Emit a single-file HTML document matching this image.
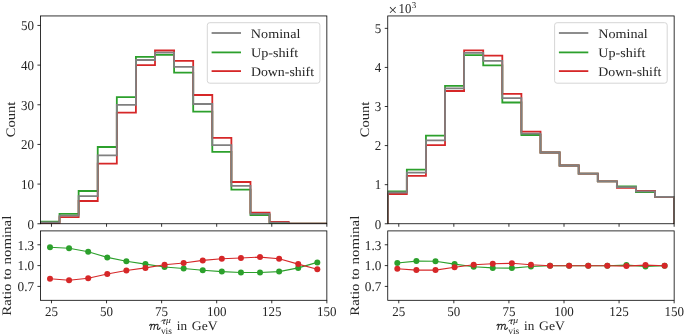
<!DOCTYPE html>
<html><head><meta charset="utf-8"><style>
html,body{margin:0;padding:0;background:#fff;}
svg{display:block;will-change:transform;}
text{font-family:"Liberation Serif",serif;fill:#262626;text-rendering:geometricPrecision;font-kerning:none;}
</style></head><body>
<svg width="685" height="336" viewBox="0 0 685 336">
<rect width="685" height="336" fill="#fff"/>
<clipPath id="c0"><rect x="40.45" y="15.95" width="286.40" height="207.80"/></clipPath><g clip-path="url(#c0)"><path d="M40.45,223.75 L40.45,221.70 L59.54,221.70 L59.54,213.90 L78.64,213.90 L78.64,191.00 L97.73,191.00 L97.73,147.00 L116.82,147.00 L116.82,97.10 L135.92,97.10 L135.92,56.80 L155.01,56.80 L155.01,54.80 L174.10,54.80 L174.10,72.70 L193.20,72.70 L193.20,111.70 L212.29,111.70 L212.29,151.90 L231.38,151.90 L231.38,189.70 L250.48,189.70 L250.48,215.00 L269.57,215.00 L269.57,223.00 L288.66,223.00 L288.66,223.75 L307.76,223.75 L307.76,223.75 L326.85,223.75 L326.85,223.75" fill="none" stroke="#2ca02c" stroke-width="1.8"/><path d="M40.45,223.75 L40.45,223.10 L59.54,223.10 L59.54,217.20 L78.64,217.20 L78.64,201.00 L97.73,201.00 L97.73,163.70 L116.82,163.70 L116.82,112.60 L135.92,112.60 L135.92,65.20 L155.01,65.20 L155.01,50.50 L174.10,50.50 L174.10,60.80 L193.20,60.80 L193.20,95.00 L212.29,95.00 L212.29,137.90 L231.38,137.90 L231.38,182.00 L250.48,182.00 L250.48,212.70 L269.57,212.70 L269.57,221.90 L288.66,221.90 L288.66,223.75 L307.76,223.75 L307.76,223.75 L326.85,223.75 L326.85,223.75" fill="none" stroke="#d62728" stroke-width="1.8"/><path d="M40.45,223.75 L40.45,222.50 L59.54,222.50 L59.54,215.60 L78.64,215.60 L78.64,196.10 L97.73,196.10 L97.73,155.40 L116.82,155.40 L116.82,104.90 L135.92,104.90 L135.92,60.00 L155.01,60.00 L155.01,52.60 L174.10,52.60 L174.10,66.80 L193.20,66.80 L193.20,104.00 L212.29,104.00 L212.29,145.20 L231.38,145.20 L231.38,185.80 L250.48,185.80 L250.48,213.80 L269.57,213.80 L269.57,222.60 L288.66,222.60 L288.66,223.75 L307.76,223.75 L307.76,223.75 L326.85,223.75 L326.85,223.75" fill="none" stroke="#808080" stroke-width="1.8"/></g><path d="M50.00,247.30 L69.09,248.30 L88.18,251.70 L107.28,257.40 L126.37,261.30 L145.46,264.10 L164.56,267.00 L183.65,268.50 L202.74,270.30 L221.84,271.60 L240.93,272.50 L260.02,272.50 L279.12,271.60 L298.21,267.90 L317.30,262.40" fill="none" stroke="#2ca02c" stroke-width="1.1" stroke-linejoin="round"/><circle cx="50.00" cy="247.30" r="3.0" fill="#2ca02c"/><circle cx="69.09" cy="248.30" r="3.0" fill="#2ca02c"/><circle cx="88.18" cy="251.70" r="3.0" fill="#2ca02c"/><circle cx="107.28" cy="257.40" r="3.0" fill="#2ca02c"/><circle cx="126.37" cy="261.30" r="3.0" fill="#2ca02c"/><circle cx="145.46" cy="264.10" r="3.0" fill="#2ca02c"/><circle cx="164.56" cy="267.00" r="3.0" fill="#2ca02c"/><circle cx="183.65" cy="268.50" r="3.0" fill="#2ca02c"/><circle cx="202.74" cy="270.30" r="3.0" fill="#2ca02c"/><circle cx="221.84" cy="271.60" r="3.0" fill="#2ca02c"/><circle cx="240.93" cy="272.50" r="3.0" fill="#2ca02c"/><circle cx="260.02" cy="272.50" r="3.0" fill="#2ca02c"/><circle cx="279.12" cy="271.60" r="3.0" fill="#2ca02c"/><circle cx="298.21" cy="267.90" r="3.0" fill="#2ca02c"/><circle cx="317.30" cy="262.40" r="3.0" fill="#2ca02c"/><path d="M50.00,278.80 L69.09,280.30 L88.18,278.20 L107.28,274.00 L126.37,270.50 L145.46,267.90 L164.56,264.80 L183.65,263.00 L202.74,260.40 L221.84,258.70 L240.93,258.00 L260.02,257.10 L279.12,258.70 L298.21,264.10 L317.30,269.20" fill="none" stroke="#d62728" stroke-width="1.1" stroke-linejoin="round"/><circle cx="50.00" cy="278.80" r="3.0" fill="#d62728"/><circle cx="69.09" cy="280.30" r="3.0" fill="#d62728"/><circle cx="88.18" cy="278.20" r="3.0" fill="#d62728"/><circle cx="107.28" cy="274.00" r="3.0" fill="#d62728"/><circle cx="126.37" cy="270.50" r="3.0" fill="#d62728"/><circle cx="145.46" cy="267.90" r="3.0" fill="#d62728"/><circle cx="164.56" cy="264.80" r="3.0" fill="#d62728"/><circle cx="183.65" cy="263.00" r="3.0" fill="#d62728"/><circle cx="202.74" cy="260.40" r="3.0" fill="#d62728"/><circle cx="221.84" cy="258.70" r="3.0" fill="#d62728"/><circle cx="240.93" cy="258.00" r="3.0" fill="#d62728"/><circle cx="260.02" cy="257.10" r="3.0" fill="#d62728"/><circle cx="279.12" cy="258.70" r="3.0" fill="#d62728"/><circle cx="298.21" cy="264.10" r="3.0" fill="#d62728"/><circle cx="317.30" cy="269.20" r="3.0" fill="#d62728"/><rect x="40.45" y="15.95" width="286.40" height="207.80" fill="none" stroke="#000" stroke-width="0.8"/><rect x="40.45" y="230.90" width="286.40" height="69.40" fill="none" stroke="#000" stroke-width="0.8"/><line x1="51.47" y1="223.75" x2="51.47" y2="226.75" stroke="#000" stroke-width="0.8"/><line x1="51.47" y1="300.30" x2="51.47" y2="303.30" stroke="#000" stroke-width="0.8"/><text x="51.47" y="315.70" font-size="13.5" textLength="13.00" lengthAdjust="spacingAndGlyphs" text-anchor="middle">25</text><line x1="106.54" y1="223.75" x2="106.54" y2="226.75" stroke="#000" stroke-width="0.8"/><line x1="106.54" y1="300.30" x2="106.54" y2="303.30" stroke="#000" stroke-width="0.8"/><text x="106.54" y="315.70" font-size="13.5" textLength="13.00" lengthAdjust="spacingAndGlyphs" text-anchor="middle">50</text><line x1="161.62" y1="223.75" x2="161.62" y2="226.75" stroke="#000" stroke-width="0.8"/><line x1="161.62" y1="300.30" x2="161.62" y2="303.30" stroke="#000" stroke-width="0.8"/><text x="161.62" y="315.70" font-size="13.5" textLength="13.00" lengthAdjust="spacingAndGlyphs" text-anchor="middle">75</text><line x1="216.70" y1="223.75" x2="216.70" y2="226.75" stroke="#000" stroke-width="0.8"/><line x1="216.70" y1="300.30" x2="216.70" y2="303.30" stroke="#000" stroke-width="0.8"/><text x="216.70" y="315.70" font-size="13.5" textLength="19.50" lengthAdjust="spacingAndGlyphs" text-anchor="middle">100</text><line x1="271.77" y1="223.75" x2="271.77" y2="226.75" stroke="#000" stroke-width="0.8"/><line x1="271.77" y1="300.30" x2="271.77" y2="303.30" stroke="#000" stroke-width="0.8"/><text x="271.77" y="315.70" font-size="13.5" textLength="19.50" lengthAdjust="spacingAndGlyphs" text-anchor="middle">125</text><line x1="326.85" y1="223.75" x2="326.85" y2="226.75" stroke="#000" stroke-width="0.8"/><line x1="326.85" y1="300.30" x2="326.85" y2="303.30" stroke="#000" stroke-width="0.8"/><text x="326.85" y="315.70" font-size="13.5" textLength="19.50" lengthAdjust="spacingAndGlyphs" text-anchor="middle">150</text><line x1="37.45" y1="223.75" x2="40.45" y2="223.75" stroke="#000" stroke-width="0.8"/><text x="33.95" y="228.55" font-size="13.5" textLength="6.50" lengthAdjust="spacingAndGlyphs" text-anchor="end">0</text><line x1="37.45" y1="184.09" x2="40.45" y2="184.09" stroke="#000" stroke-width="0.8"/><text x="33.95" y="188.89" font-size="13.5" textLength="13.00" lengthAdjust="spacingAndGlyphs" text-anchor="end">10</text><line x1="37.45" y1="144.43" x2="40.45" y2="144.43" stroke="#000" stroke-width="0.8"/><text x="33.95" y="149.23" font-size="13.5" textLength="13.00" lengthAdjust="spacingAndGlyphs" text-anchor="end">20</text><line x1="37.45" y1="104.77" x2="40.45" y2="104.77" stroke="#000" stroke-width="0.8"/><text x="33.95" y="109.57" font-size="13.5" textLength="13.00" lengthAdjust="spacingAndGlyphs" text-anchor="end">30</text><line x1="37.45" y1="65.11" x2="40.45" y2="65.11" stroke="#000" stroke-width="0.8"/><text x="33.95" y="69.91" font-size="13.5" textLength="13.00" lengthAdjust="spacingAndGlyphs" text-anchor="end">40</text><line x1="37.45" y1="25.45" x2="40.45" y2="25.45" stroke="#000" stroke-width="0.8"/><text x="33.95" y="30.25" font-size="13.5" textLength="13.00" lengthAdjust="spacingAndGlyphs" text-anchor="end">50</text><line x1="37.45" y1="244.78" x2="40.45" y2="244.78" stroke="#000" stroke-width="0.8"/><text x="34.15" y="249.58" font-size="13.5" textLength="16.61" lengthAdjust="spacingAndGlyphs" text-anchor="end">1.3</text><line x1="37.45" y1="265.60" x2="40.45" y2="265.60" stroke="#000" stroke-width="0.8"/><text x="34.15" y="270.40" font-size="13.5" textLength="16.61" lengthAdjust="spacingAndGlyphs" text-anchor="end">1.0</text><line x1="37.45" y1="286.42" x2="40.45" y2="286.42" stroke="#000" stroke-width="0.8"/><text x="34.15" y="291.22" font-size="13.5" textLength="16.61" lengthAdjust="spacingAndGlyphs" text-anchor="end">0.7</text><text transform="translate(14.50,137.19) rotate(-90)" x="0" y="0" font-size="13.0" textLength="35.38" lengthAdjust="spacingAndGlyphs">Count</text><text transform="translate(11.40,315.73) rotate(-90)" x="0" y="0" font-size="13.0" textLength="100.03" lengthAdjust="spacingAndGlyphs">Ratio to nominal</text><path d="M149.60,325.4 Q150.30,324.0 151.20,324.3 Q151.70,324.6 151.40,325.6 L150.50,329.5 M151.10,326.0 Q152.40,324.1 153.80,324.2 Q155.00,324.4 154.60,325.6 L153.80,329.5 M154.50,326.0 Q155.80,324.1 157.20,324.2 Q158.40,324.4 158.00,325.6 L157.40,328.0 Q157.10,329.4 158.00,329.4 Q159.20,329.3 160.20,327.9" fill="none" stroke="#262626" stroke-width="1.05" stroke-linecap="round" stroke-linejoin="round"/><path d="M161.40,321.1 Q162.00,320.0 163.40,320.1 L165.90,319.95 M164.40,320.1 L163.50,323.3 Q163.40,324.1 164.30,323.7" fill="none" stroke="#262626" stroke-width="0.95" stroke-linecap="round"/><text x="166.01" y="323.00" font-size="9.0" textLength="4.81" lengthAdjust="spacingAndGlyphs" font-style="italic">μ</text><text x="160.90" y="334.00" font-size="9.4" textLength="11.04" lengthAdjust="spacingAndGlyphs">vis</text><text x="176.82" y="329.80" font-size="13.0" textLength="10.28" lengthAdjust="spacingAndGlyphs">in</text><text x="191.84" y="329.80" font-size="13.0" textLength="25.81" lengthAdjust="spacingAndGlyphs">GeV</text><rect x="207.30" y="22.70" width="112.60" height="60.50" rx="2.5" fill="#fff" fill-opacity="0.8" stroke="#d6d6d6" stroke-width="1"/><line x1="211.60" y1="33.0" x2="241.00" y2="33.0" stroke="#808080" stroke-width="1.8"/><text x="250.89" y="38.00" font-size="13.0" textLength="49.49" lengthAdjust="spacingAndGlyphs">Nominal</text><line x1="211.60" y1="52.4" x2="241.00" y2="52.4" stroke="#2ca02c" stroke-width="1.8"/><text x="251.00" y="56.90" font-size="13.0" textLength="47.18" lengthAdjust="spacingAndGlyphs">Up-shift</text><line x1="211.60" y1="71.1" x2="241.00" y2="71.1" stroke="#d62728" stroke-width="1.8"/><text x="250.90" y="75.90" font-size="13.0" textLength="63.18" lengthAdjust="spacingAndGlyphs">Down-shift</text><clipPath id="c347"><rect x="387.75" y="15.95" width="286.40" height="207.80"/></clipPath><g clip-path="url(#c347)"><path d="M387.75,223.75 L387.75,191.50 L406.84,191.50 L406.84,169.60 L425.94,169.60 L425.94,135.60 L445.03,135.60 L445.03,85.80 L464.12,85.80 L464.12,55.20 L483.22,55.20 L483.22,65.40 L502.31,65.40 L502.31,102.50 L521.40,102.50 L521.40,135.00 L540.50,135.00 L540.50,152.50 L559.59,152.50 L559.59,165.50 L578.68,165.50 L578.68,173.70 L597.78,173.70 L597.78,181.40 L616.87,181.40 L616.87,186.40 L635.96,186.40 L635.96,192.10 L655.06,192.10 L655.06,196.90 L674.15,196.90 L674.15,223.75" fill="none" stroke="#2ca02c" stroke-width="1.8"/><path d="M387.75,223.75 L387.75,194.00 L406.84,194.00 L406.84,175.80 L425.94,175.80 L425.94,145.20 L445.03,145.20 L445.03,91.00 L464.12,91.00 L464.12,50.40 L483.22,50.40 L483.22,55.60 L502.31,55.60 L502.31,93.80 L521.40,93.80 L521.40,131.70 L540.50,131.70 L540.50,152.50 L559.59,152.50 L559.59,165.50 L578.68,165.50 L578.68,173.70 L597.78,173.70 L597.78,181.40 L616.87,181.40 L616.87,187.90 L635.96,187.90 L635.96,190.90 L655.06,190.90 L655.06,196.90 L674.15,196.90 L674.15,223.75" fill="none" stroke="#d62728" stroke-width="1.8"/><path d="M387.75,223.75 L387.75,192.50 L406.84,192.50 L406.84,172.70 L425.94,172.70 L425.94,140.40 L445.03,140.40 L445.03,88.30 L464.12,88.30 L464.12,52.90 L483.22,52.90 L483.22,60.80 L502.31,60.80 L502.31,98.20 L521.40,98.20 L521.40,133.60 L540.50,133.60 L540.50,152.50 L559.59,152.50 L559.59,165.50 L578.68,165.50 L578.68,173.70 L597.78,173.70 L597.78,181.40 L616.87,181.40 L616.87,187.10 L635.96,187.10 L635.96,191.40 L655.06,191.40 L655.06,196.90 L674.15,196.90 L674.15,223.75" fill="none" stroke="#808080" stroke-width="1.8"/></g><path d="M397.30,263.00 L416.39,261.10 L435.48,261.30 L454.58,264.10 L473.67,266.80 L492.76,267.90 L511.86,268.10 L530.95,266.50 L550.04,265.70 L569.14,265.70 L588.23,265.70 L607.32,265.70 L626.42,265.10 L645.51,266.40 L664.60,265.70" fill="none" stroke="#2ca02c" stroke-width="1.1" stroke-linejoin="round"/><circle cx="397.30" cy="263.00" r="3.0" fill="#2ca02c"/><circle cx="416.39" cy="261.10" r="3.0" fill="#2ca02c"/><circle cx="435.48" cy="261.30" r="3.0" fill="#2ca02c"/><circle cx="454.58" cy="264.10" r="3.0" fill="#2ca02c"/><circle cx="473.67" cy="266.80" r="3.0" fill="#2ca02c"/><circle cx="492.76" cy="267.90" r="3.0" fill="#2ca02c"/><circle cx="511.86" cy="268.10" r="3.0" fill="#2ca02c"/><circle cx="530.95" cy="266.50" r="3.0" fill="#2ca02c"/><circle cx="550.04" cy="265.70" r="3.0" fill="#2ca02c"/><circle cx="569.14" cy="265.70" r="3.0" fill="#2ca02c"/><circle cx="588.23" cy="265.70" r="3.0" fill="#2ca02c"/><circle cx="607.32" cy="265.70" r="3.0" fill="#2ca02c"/><circle cx="626.42" cy="265.10" r="3.0" fill="#2ca02c"/><circle cx="645.51" cy="266.40" r="3.0" fill="#2ca02c"/><circle cx="664.60" cy="265.70" r="3.0" fill="#2ca02c"/><path d="M397.30,268.70 L416.39,270.10 L435.48,270.10 L454.58,267.20 L473.67,264.80 L492.76,263.70 L511.86,263.30 L530.95,264.80 L550.04,265.70 L569.14,265.70 L588.23,265.70 L607.32,265.70 L626.42,266.10 L645.51,265.10 L664.60,265.70" fill="none" stroke="#d62728" stroke-width="1.1" stroke-linejoin="round"/><circle cx="397.30" cy="268.70" r="3.0" fill="#d62728"/><circle cx="416.39" cy="270.10" r="3.0" fill="#d62728"/><circle cx="435.48" cy="270.10" r="3.0" fill="#d62728"/><circle cx="454.58" cy="267.20" r="3.0" fill="#d62728"/><circle cx="473.67" cy="264.80" r="3.0" fill="#d62728"/><circle cx="492.76" cy="263.70" r="3.0" fill="#d62728"/><circle cx="511.86" cy="263.30" r="3.0" fill="#d62728"/><circle cx="530.95" cy="264.80" r="3.0" fill="#d62728"/><circle cx="550.04" cy="265.70" r="3.0" fill="#d62728"/><circle cx="569.14" cy="265.70" r="3.0" fill="#d62728"/><circle cx="588.23" cy="265.70" r="3.0" fill="#d62728"/><circle cx="607.32" cy="265.70" r="3.0" fill="#d62728"/><circle cx="626.42" cy="266.10" r="3.0" fill="#d62728"/><circle cx="645.51" cy="265.10" r="3.0" fill="#d62728"/><circle cx="664.60" cy="265.70" r="3.0" fill="#d62728"/><rect x="387.75" y="15.95" width="286.40" height="207.80" fill="none" stroke="#000" stroke-width="0.8"/><rect x="387.75" y="230.90" width="286.40" height="69.40" fill="none" stroke="#000" stroke-width="0.8"/><line x1="398.77" y1="223.75" x2="398.77" y2="226.75" stroke="#000" stroke-width="0.8"/><line x1="398.77" y1="300.30" x2="398.77" y2="303.30" stroke="#000" stroke-width="0.8"/><text x="398.77" y="315.70" font-size="13.5" textLength="13.00" lengthAdjust="spacingAndGlyphs" text-anchor="middle">25</text><line x1="453.84" y1="223.75" x2="453.84" y2="226.75" stroke="#000" stroke-width="0.8"/><line x1="453.84" y1="300.30" x2="453.84" y2="303.30" stroke="#000" stroke-width="0.8"/><text x="453.84" y="315.70" font-size="13.5" textLength="13.00" lengthAdjust="spacingAndGlyphs" text-anchor="middle">50</text><line x1="508.92" y1="223.75" x2="508.92" y2="226.75" stroke="#000" stroke-width="0.8"/><line x1="508.92" y1="300.30" x2="508.92" y2="303.30" stroke="#000" stroke-width="0.8"/><text x="508.92" y="315.70" font-size="13.5" textLength="13.00" lengthAdjust="spacingAndGlyphs" text-anchor="middle">75</text><line x1="564.00" y1="223.75" x2="564.00" y2="226.75" stroke="#000" stroke-width="0.8"/><line x1="564.00" y1="300.30" x2="564.00" y2="303.30" stroke="#000" stroke-width="0.8"/><text x="564.00" y="315.70" font-size="13.5" textLength="19.50" lengthAdjust="spacingAndGlyphs" text-anchor="middle">100</text><line x1="619.07" y1="223.75" x2="619.07" y2="226.75" stroke="#000" stroke-width="0.8"/><line x1="619.07" y1="300.30" x2="619.07" y2="303.30" stroke="#000" stroke-width="0.8"/><text x="619.07" y="315.70" font-size="13.5" textLength="19.50" lengthAdjust="spacingAndGlyphs" text-anchor="middle">125</text><line x1="674.15" y1="223.75" x2="674.15" y2="226.75" stroke="#000" stroke-width="0.8"/><line x1="674.15" y1="300.30" x2="674.15" y2="303.30" stroke="#000" stroke-width="0.8"/><text x="674.15" y="315.70" font-size="13.5" textLength="19.50" lengthAdjust="spacingAndGlyphs" text-anchor="middle">150</text><line x1="384.75" y1="223.75" x2="387.75" y2="223.75" stroke="#000" stroke-width="0.8"/><text x="381.25" y="228.55" font-size="13.5" textLength="6.50" lengthAdjust="spacingAndGlyphs" text-anchor="end">0</text><line x1="384.75" y1="184.67" x2="387.75" y2="184.67" stroke="#000" stroke-width="0.8"/><text x="381.25" y="189.47" font-size="13.5" textLength="6.50" lengthAdjust="spacingAndGlyphs" text-anchor="end">1</text><line x1="384.75" y1="145.59" x2="387.75" y2="145.59" stroke="#000" stroke-width="0.8"/><text x="381.25" y="150.39" font-size="13.5" textLength="6.50" lengthAdjust="spacingAndGlyphs" text-anchor="end">2</text><line x1="384.75" y1="106.51" x2="387.75" y2="106.51" stroke="#000" stroke-width="0.8"/><text x="381.25" y="111.31" font-size="13.5" textLength="6.50" lengthAdjust="spacingAndGlyphs" text-anchor="end">3</text><line x1="384.75" y1="67.43" x2="387.75" y2="67.43" stroke="#000" stroke-width="0.8"/><text x="381.25" y="72.23" font-size="13.5" textLength="6.50" lengthAdjust="spacingAndGlyphs" text-anchor="end">4</text><line x1="384.75" y1="28.35" x2="387.75" y2="28.35" stroke="#000" stroke-width="0.8"/><text x="381.25" y="33.15" font-size="13.5" textLength="6.50" lengthAdjust="spacingAndGlyphs" text-anchor="end">5</text><line x1="384.75" y1="244.78" x2="387.75" y2="244.78" stroke="#000" stroke-width="0.8"/><text x="381.45" y="249.58" font-size="13.5" textLength="16.61" lengthAdjust="spacingAndGlyphs" text-anchor="end">1.3</text><line x1="384.75" y1="265.60" x2="387.75" y2="265.60" stroke="#000" stroke-width="0.8"/><text x="381.45" y="270.40" font-size="13.5" textLength="16.61" lengthAdjust="spacingAndGlyphs" text-anchor="end">1.0</text><line x1="384.75" y1="286.42" x2="387.75" y2="286.42" stroke="#000" stroke-width="0.8"/><text x="381.45" y="291.22" font-size="13.5" textLength="16.61" lengthAdjust="spacingAndGlyphs" text-anchor="end">0.7</text><text transform="translate(368.80,137.19) rotate(-90)" x="0" y="0" font-size="13.0" textLength="35.38" lengthAdjust="spacingAndGlyphs">Count</text><text transform="translate(358.50,315.73) rotate(-90)" x="0" y="0" font-size="13.0" textLength="100.03" lengthAdjust="spacingAndGlyphs">Ratio to nominal</text><path d="M496.90,325.4 Q497.60,324.0 498.50,324.3 Q499.00,324.6 498.70,325.6 L497.80,329.5 M498.40,326.0 Q499.70,324.1 501.10,324.2 Q502.30,324.4 501.90,325.6 L501.10,329.5 M501.80,326.0 Q503.10,324.1 504.50,324.2 Q505.70,324.4 505.30,325.6 L504.70,328.0 Q504.40,329.4 505.30,329.4 Q506.50,329.3 507.50,327.9" fill="none" stroke="#262626" stroke-width="1.05" stroke-linecap="round" stroke-linejoin="round"/><path d="M508.70,321.1 Q509.30,320.0 510.70,320.1 L513.20,319.95 M511.70,320.1 L510.80,323.3 Q510.70,324.1 511.60,323.7" fill="none" stroke="#262626" stroke-width="0.95" stroke-linecap="round"/><text x="513.31" y="323.00" font-size="9.0" textLength="4.81" lengthAdjust="spacingAndGlyphs" font-style="italic">μ</text><text x="508.20" y="334.00" font-size="9.4" textLength="11.04" lengthAdjust="spacingAndGlyphs">vis</text><text x="524.12" y="329.80" font-size="13.0" textLength="10.28" lengthAdjust="spacingAndGlyphs">in</text><text x="539.14" y="329.80" font-size="13.0" textLength="25.81" lengthAdjust="spacingAndGlyphs">GeV</text><rect x="554.60" y="22.70" width="112.60" height="60.50" rx="2.5" fill="#fff" fill-opacity="0.8" stroke="#d6d6d6" stroke-width="1"/><line x1="558.90" y1="33.0" x2="588.30" y2="33.0" stroke="#808080" stroke-width="1.8"/><text x="598.19" y="38.00" font-size="13.0" textLength="49.49" lengthAdjust="spacingAndGlyphs">Nominal</text><line x1="558.90" y1="52.4" x2="588.30" y2="52.4" stroke="#2ca02c" stroke-width="1.8"/><text x="598.30" y="56.90" font-size="13.0" textLength="47.18" lengthAdjust="spacingAndGlyphs">Up-shift</text><line x1="558.90" y1="71.1" x2="588.30" y2="71.1" stroke="#d62728" stroke-width="1.8"/><text x="598.20" y="75.90" font-size="13.0" textLength="63.18" lengthAdjust="spacingAndGlyphs">Down-shift</text><text x="388.59" y="14.60" font-size="15.2" textLength="8.60" lengthAdjust="spacingAndGlyphs">×</text><text x="398.57" y="12.60" font-size="13.5" textLength="12.81" lengthAdjust="spacingAndGlyphs">10</text><text x="411.67" y="7.60" font-size="9.0" textLength="4.48" lengthAdjust="spacingAndGlyphs">3</text>
</svg>
</body></html>
